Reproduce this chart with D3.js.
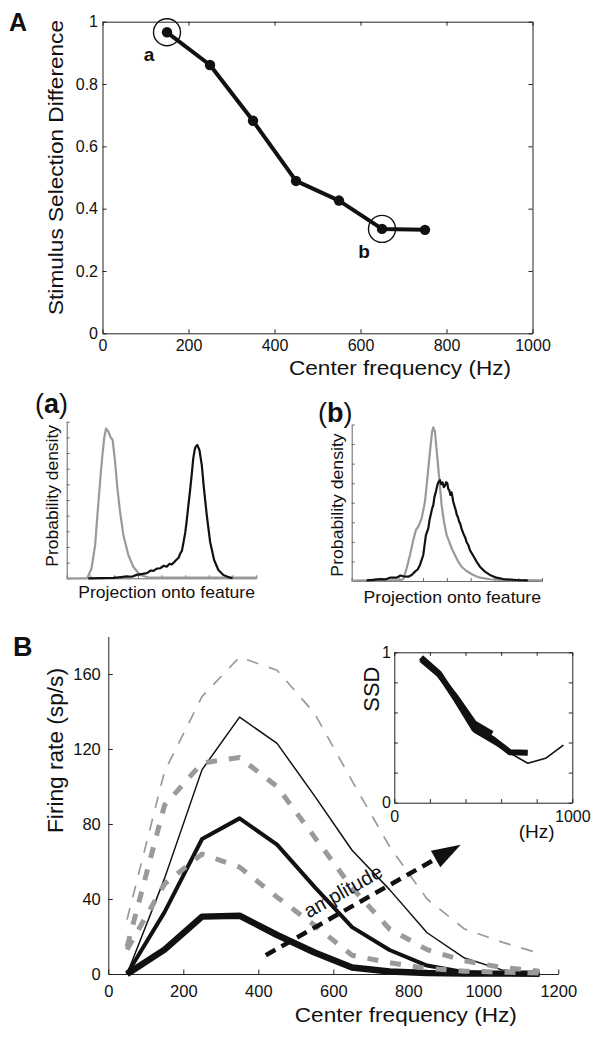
<!DOCTYPE html>
<html><head><meta charset="utf-8">
<script src="https://cdn.jsdelivr.net/npm/d3@7"></script>
<style>
body{margin:0;background:#fff;}
svg{display:block;font-family:"Liberation Sans",Arial,Helvetica,sans-serif;}
</style></head><body>
<svg id="c" width="602" height="1038"></svg>
<script>
// ---------------- DATA ----------------
// Panel A
const freqA = [150, 250, 350, 450, 550, 650, 750];
const ssdA = [0.966, 0.861, 0.682, 0.489, 0.426, 0.335, 0.332];
const ssdTicksA = [0, 0.2, 0.4, 0.6, 0.8, 1];
const freqTicksA = [0, 200, 400, 600, 800, 1000];
const circledIdx = [0, 5];
const circledLabels = ["a", "b"];

// Panel (a): projection histograms  [projection, density]
const densAGray = [[0,0],[0.87,0.02],[1.05,0.64],[1.2,2.13],[1.34,4.89],[1.48,7.45],[1.58,8.94],[1.66,9.57],[1.76,9.36],[1.86,8.98],[1.94,8.83],[2.04,7.45],[2.14,5.74],[2.25,4.26],[2.39,2.77],[2.6,1.49],[2.81,0.74],[3.09,0.21],[3.45,0.05],[4.5,0.04],[6,0.05],[7.3,0.04],[8,0.05]];
const densABlack = [[0.91,0],[1.41,0.01],[1.97,0.03],[2.3,0.08],[2.53,0.12],[2.75,0.1],[2.95,0.22],[3.2,0.28],[3.38,0.33],[3.55,0.5],[3.66,0.47],[3.8,0.62],[3.94,0.64],[4.1,0.8],[4.22,0.74],[4.33,0.92],[4.43,0.89],[4.55,1.05],[4.64,1.2],[4.72,1.3],[4.78,1.55],[4.86,1.75],[4.92,2.23],[5.0,2.9],[5.06,3.62],[5.13,4.6],[5.2,5.53],[5.28,6.7],[5.34,7.66],[5.4,8.2],[5.44,8.4],[5.51,8.51],[5.6,8.19],[5.7,7.23],[5.79,5.74],[5.91,4.04],[6.05,2.34],[6.22,1.17],[6.4,0.53],[6.61,0.21],[6.89,0.04],[7.0,0.02]];
// Panel (b)
const densBGray = [[0,0.02],[1.2,0.03],[2.03,0.03],[2.17,0.1],[2.31,0.65],[2.45,1.33],[2.59,2.1],[2.7,2.61],[2.8,2.78],[2.94,3.2],[3.08,4.05],[3.18,5.25],[3.29,6.61],[3.38,7.63],[3.43,7.85],[3.5,7.63],[3.57,6.7],[3.68,5.25],[3.78,3.88],[3.88,3.03],[3.99,2.35],[4.1,2.01],[4.2,1.67],[4.34,1.33],[4.48,0.99],[4.62,0.73],[4.83,0.51],[5.11,0.31],[5.39,0.17],[5.81,0.09],[6.23,0.05],[7,0.04],[8,0.03]];
const densBBlack = [[0.63,0.03],[0.9,0.06],[1.19,0.1],[1.4,0.08],[1.61,0.17],[1.89,0.17],[2.05,0.28],[2.17,0.24],[2.38,0.22],[2.52,0.31],[2.66,0.48],[2.78,0.6],[2.87,0.82],[3.01,1.33],[3.07,1.9],[3.12,2.35],[3.22,2.69],[3.27,3.1],[3.32,3.37],[3.38,3.7],[3.43,3.88],[3.48,4.3],[3.54,4.57],[3.6,4.9],[3.64,5.04],[3.71,5.16],[3.76,4.95],[3.82,5.04],[3.87,4.8],[3.92,4.87],[3.97,5.05],[4.02,4.99],[4.06,4.7],[4.1,4.65],[4.15,4.4],[4.2,4.53],[4.27,4.05],[4.34,3.75],[4.38,3.6],[4.41,3.41],[4.47,3.25],[4.52,3.03],[4.57,2.9],[4.62,2.66],[4.72,2.35],[4.78,2.2],[4.83,1.98],[4.9,1.85],[4.97,1.58],[5.11,1.29],[5.25,0.99],[5.39,0.73],[5.6,0.48],[5.81,0.31],[6.09,0.17],[6.37,0.1],[6.93,0.05],[7.4,0.03]];

// Panel B
const freqB = [50, 150, 250, 350, 450, 550, 650, 750, 850, 950, 1050, 1150];
const rateThinGray   = [29, 108, 148, 169, 162, 139, 103, 68, 40, 24, 17, 11];
const rateThinBlack  = [0, 51, 109, 137, 123, 95, 66, 45, 22, 8.5, 2.2, 0.4];
const rateGrayUpper  = [14.5, 90, 112.5, 115.5, 100, 73, 46, 24, 13, 7, 3.5, 1.5];
const rateBlackMid   = [0, 33, 72, 83, 69, 46.5, 25, 12.8, 4.5, 1, 0.3, 0.1];
const rateGrayLower  = [13, 48, 64, 57, 41, 26, 10, 6, 3, 1.5, 1, 0.5];
const rateBlackLow   = [0, 13, 30.6, 31.1, 20.8, 11.5, 3.5, 1.3, 0.5, 0.3, 0.2, 0.2];
const rateTicksB = [0, 40, 80, 120, 160];
const freqTicksB = [0, 200, 400, 600, 800, 1000, 1200];
const arrowFrom = [420, 10];
const arrowTo = [940, 69];
const arrowLabel = "amplitude";
const arrowLabelAt = [635, 41];

// Inset
const freqInsetThin = [150, 250, 350, 450, 550, 650, 750, 850, 950];
const ssdInsetThin = [0.95, 0.85, 0.67, 0.47, 0.40, 0.33, 0.262, 0.295, 0.383];
const freqInset2 = [150, 250, 350, 450, 550];
const ssdInset2 = [0.95, 0.85, 0.70, 0.53, 0.46];
const insetXTicks = [0, 200, 400, 600, 800, 1000];
const insetYTicks = [0, 0.2, 0.4, 0.6, 0.8, 1];

// ---------------- DRAW ----------------
const svg = d3.select("#c");
const GRAY = "#9a9a9a";

function fixAxis(g, size, color) {
  g.attr("font-family", null).attr("font-size", size);
  g.selectAll("path.domain, .tick line").attr("stroke", color || "#222");
  g.selectAll("text").attr("fill", "#111");
  return g;
}
function label(txt, x, y, size, opts = {}) {
  const t = svg.append("text").attr("x", x).attr("y", y).attr("font-size", size)
    .attr("text-anchor", opts.anchor || "middle").attr("fill", "#111").text(txt);
  if (opts.bold) t.attr("font-weight", "bold");
  if (opts.len) t.attr("textLength", opts.len).attr("lengthAdjust", "spacingAndGlyphs");
  return t;
}
function vlabel(txt, x, y, size, len) {
  const t = svg.append("text").attr("transform", `translate(${x},${y}) rotate(-90)`)
    .attr("font-size", size).attr("text-anchor", "middle").attr("fill", "#111").text(txt);
  if (len) t.attr("textLength", len).attr("lengthAdjust", "spacingAndGlyphs");
  return t;
}

// ===== Panel A =====
const xA = d3.scaleLinear().domain([0, 1000]).range([102.5, 532.5]);
const yA = d3.scaleLinear().domain([0, 1]).range([333.3, 21.7]);
const fmtA = d => d === 0 ? "0" : d === 1 ? "1" : d3.format(".1f")(d);
fixAxis(svg.append("g").attr("transform", `translate(0,${yA(0)})`)
  .call(d3.axisBottom(xA).tickValues(freqTicksA).tickSizeInner(-4).tickSizeOuter(0).tickPadding(6.5).tickFormat(d3.format("d"))), 16);
fixAxis(svg.append("g").attr("transform", `translate(${xA(0)},0)`)
  .call(d3.axisLeft(yA).tickValues(ssdTicksA).tickSizeInner(-4).tickSizeOuter(0).tickPadding(4.5).tickFormat(fmtA)), 16);
fixAxis(svg.append("g").attr("transform", `translate(0,${yA(1)})`)
  .call(d3.axisTop(xA).tickValues(freqTicksA).tickSizeInner(-4).tickSizeOuter(0).tickFormat("")), 16);
fixAxis(svg.append("g").attr("transform", `translate(${xA(1000)},0)`)
  .call(d3.axisRight(yA).tickValues(ssdTicksA).tickSizeInner(-4).tickSizeOuter(0).tickFormat("")), 16);

const ptsA = freqA.map((f, i) => [f, ssdA[i]]);
svg.append("path").datum(ptsA)
  .attr("d", d3.line().x(d => xA(d[0])).y(d => yA(d[1])))
  .attr("fill", "none").attr("stroke", "#111").attr("stroke-width", 4).attr("stroke-linejoin", "round");
svg.selectAll("circle.ptA").data(ptsA).enter().append("circle")
  .attr("cx", d => xA(d[0])).attr("cy", d => yA(d[1])).attr("r", 5.2).attr("fill", "#111");
circledIdx.forEach((idx, k) => {
  const cx = xA(freqA[idx]), cy = yA(ssdA[idx]);
  svg.append("circle").attr("cx", cx).attr("cy", cy).attr("r", 13.5)
    .attr("fill", "none").attr("stroke", "#111").attr("stroke-width", 1.4);
  label(circledLabels[k], cx - 18, cy + 29, 19, { bold: true });
});
label("A", 9, 31, 25, { bold: true, anchor: "start" });
label("Center frequency (Hz)", 400, 375, 20, { len: 222 });
vlabel("Stimulus Selection Difference", 62.7, 167.5, 21, 295);

// ===== Panel (a) and (b) =====
function densPanel(x0, x1, yb, yt, ny, gray, black, tag, tagX, tagY, ylx, yly, ylen, xlx, xly, xlen) {
  const xs = d3.scaleLinear().domain([0, 8]).range([x0, x1]);
  const ys = d3.scaleLinear().domain([0, ny]).range([yb, yt]);
  fixAxis(svg.append("g").attr("transform", `translate(0,${yb})`)
    .call(d3.axisBottom(xs).ticks(8).tickSizeInner(-3).tickSizeOuter(0).tickFormat("")), 10, "#666");
  fixAxis(svg.append("g").attr("transform", `translate(${x0},0)`)
    .call(d3.axisLeft(ys).ticks(ny).tickSizeInner(-3).tickSizeOuter(0).tickFormat("")), 10, "#666");
  const ln = d3.line().x(d => xs(d[0])).y(d => ys(d[1]));
  svg.append("path").datum(gray).attr("d", ln).attr("fill", "none").attr("stroke", GRAY).attr("stroke-width", 2.2).attr("stroke-linejoin", "round");
  svg.append("path").datum(black).attr("d", ln).attr("fill", "none").attr("stroke", "#111").attr("stroke-width", 2.2).attr("stroke-linejoin", "round");
  const t = svg.append("text").attr("x", tagX).attr("y", tagY).attr("font-size", 27).attr("fill", "#111");
  t.append("tspan").text("(");
  t.append("tspan").attr("font-weight", "bold").text(tag);
  t.append("tspan").text(")");
  vlabel("Probability density", ylx, yly, 17, ylen);
  label("Projection onto feature", xlx, xly, 17, { len: xlen });
}
densPanel(66.7, 256.3, 578.3, 421.7, 10, densAGray, densABlack, "a", 35, 413, 57.5, 495.8, 141.7, 166.6, 598, 176.6);
densPanel(351.7, 542, 581, 424.5, 8, densBGray, densBBlack, "b", 318, 422, 343, 505, 143.3, 452.3, 602.5, 177.5);

// ===== Panel B =====
const xB = d3.scaleLinear().domain([0, 1200]).range([108.3, 558.3]);
const yB = d3.scaleLinear().domain([0, 180]).range([974, 636.5]);
fixAxis(svg.append("g").attr("transform", `translate(0,${yB(0)})`)
  .call(d3.axisBottom(xB).tickValues(freqTicksB).tickSizeInner(-4.5).tickSizeOuter(0).tickPadding(11.5).tickFormat(d3.format("d"))), 16.5);
fixAxis(svg.append("g").attr("transform", `translate(${xB(0)},0)`)
  .call(d3.axisLeft(yB).tickValues(rateTicksB).tickSizeInner(-4.5).tickSizeOuter(0).tickPadding(7.5)), 16.5);

const lineB = d3.line().x(d => xB(d[0])).y(d => yB(d[1]));
function seriesB(vals, color, w, dash) {
  const p = svg.append("path").datum(freqB.map((f, i) => [f, vals[i]]))
    .attr("d", lineB).attr("fill", "none").attr("stroke", color).attr("stroke-width", w)
    .attr("stroke-linejoin", "round");
  if (dash) p.attr("stroke-dasharray", dash);
}
seriesB(rateBlackLow, "#111", 6.5);
seriesB(rateBlackMid, "#111", 4);
seriesB(rateThinBlack, "#111", 1.5);
seriesB(rateGrayLower, GRAY, 5, "11 12");
seriesB(rateGrayUpper, GRAY, 5, "11 12");
seriesB(rateThinGray, GRAY, 1.7, "12 11");

// arrow
{
  const x1 = xB(arrowFrom[0]), y1 = yB(arrowFrom[1]);
  const x2 = xB(arrowTo[0]), y2 = yB(arrowTo[1]);
  const ang = Math.atan2(y2 - y1, x2 - x1);
  const hl = 29, hw = 9.5;
  const bx = x2 - hl * Math.cos(ang), by = y2 - hl * Math.sin(ang);
  svg.append("line").attr("x1", x1).attr("y1", y1).attr("x2", bx + 4 * Math.cos(ang)).attr("y2", by + 4 * Math.sin(ang))
    .attr("stroke", "#111").attr("stroke-width", 4.5).attr("stroke-dasharray", "11 7");
  const nx = -Math.sin(ang), ny = Math.cos(ang);
  svg.append("polygon")
    .attr("points", [[x2, y2], [bx + hw * nx, by + hw * ny], [bx - hw * nx, by - hw * ny]].map(p => p.join(",")).join(" "))
    .attr("fill", "#111");
  const tx = xB(arrowLabelAt[0]), ty = yB(arrowLabelAt[1]);
  svg.append("text").attr("transform", `translate(${tx},${ty}) rotate(${ang * 180 / Math.PI})`)
    .attr("text-anchor", "middle").attr("font-size", 20).attr("fill", "#111").text(arrowLabel);
}

label("B", 13, 656, 27, { bold: true, anchor: "start" });
label("Center frequency (Hz)", 405.8, 1022.3, 20.5, { len: 222 });
vlabel("Firing rate (sp/s)", 62.7, 750.5, 22, 165);

// ===== Inset =====
const xI = d3.scaleLinear().domain([0, 1000]).range([394.3, 572.3]);
const yI = d3.scaleLinear().domain([0, 1]).range([802.7, 652.3]);
svg.append("rect").attr("x", xI(0)).attr("y", yI(1)).attr("width", xI(1000) - xI(0)).attr("height", yI(0) - yI(1)).attr("fill", "#fff");
const fmtIx = d => (d === 0 || d === 1000) ? d3.format("d")(d) : "";
const fmtIy = d => (d === 0 || d === 1) ? d3.format("d")(d) : "";
fixAxis(svg.append("g").attr("transform", `translate(0,${yI(0)})`)
  .call(d3.axisBottom(xI).tickValues(insetXTicks).tickSizeInner(-3.5).tickSizeOuter(0).tickPadding(7.5).tickFormat(fmtIx)), 16);
fixAxis(svg.append("g").attr("transform", `translate(${xI(0)},0)`)
  .call(d3.axisLeft(yI).tickValues(insetYTicks).tickSizeInner(-3.5).tickSizeOuter(0).tickPadding(3.5).tickFormat(fmtIy)), 16);
fixAxis(svg.append("g").attr("transform", `translate(0,${yI(1)})`)
  .call(d3.axisTop(xI).tickValues(insetXTicks).tickSizeInner(-3.5).tickSizeOuter(0).tickFormat("")), 16);
fixAxis(svg.append("g").attr("transform", `translate(${xI(1000)},0)`)
  .call(d3.axisRight(yI).tickValues(insetYTicks).tickSizeInner(-3.5).tickSizeOuter(0).tickFormat("")), 16);
const lineI = d3.line().x(d => xI(d[0])).y(d => yI(d[1]));
svg.append("path").datum(freqInsetThin.map((f, i) => [f, ssdInsetThin[i]])).attr("d", lineI)
  .attr("fill", "none").attr("stroke", "#111").attr("stroke-width", 1.6).attr("stroke-linejoin", "round");
svg.append("path").datum(freqInset2.map((f, i) => [f, ssdInset2[i]])).attr("d", lineI)
  .attr("fill", "none").attr("stroke", "#111").attr("stroke-width", 5).attr("stroke-linejoin", "round");
svg.append("path").datum(freqA.map((f, i) => [f, ssdA[i]])).attr("d", lineI)
  .attr("fill", "none").attr("stroke", "#111").attr("stroke-width", 6).attr("stroke-linejoin", "round");
vlabel("SSD", 379.3, 689.2, 22, 45);
label("(Hz)", 536.7, 838, 19);
</script>
</body></html>
